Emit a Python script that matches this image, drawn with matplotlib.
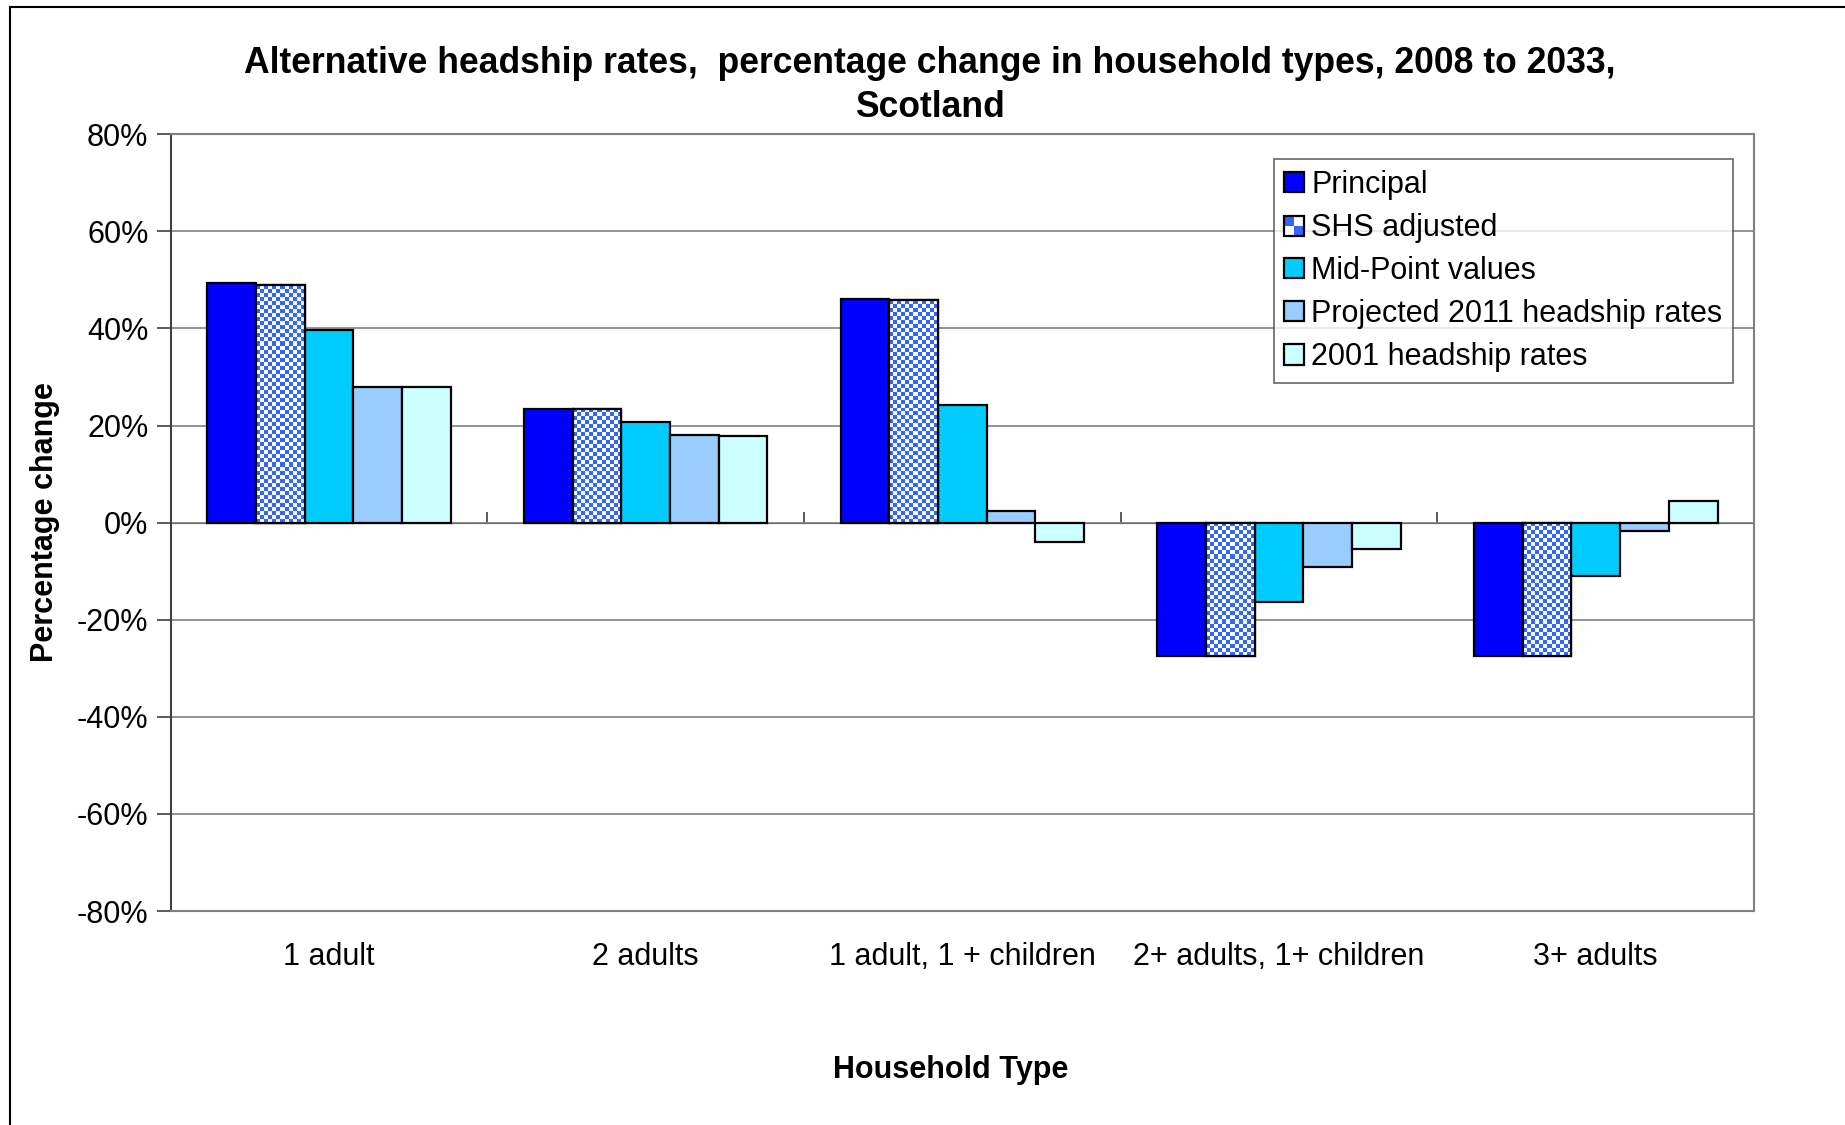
import matplotlib
matplotlib.use("Agg")
import matplotlib.pyplot as plt
import numpy as np
from matplotlib.patches import Rectangle
from matplotlib.lines import Line2D
from matplotlib.ticker import FuncFormatter

plt.rcParams['font.family'] = ['Liberation Sans', 'DejaVu Sans']

# --- Dados (variação percentual 2008-2033)
categorias = ['1 adult', '2 adults', '1 adult, 1 + children', '2+ adults, 1+ children', '3+ adults']
series = ['Principal', 'SHS adjusted', 'Mid-Point values', 'Projected 2011 headship rates', '2001 headship rates']
principal = [49.3, 23.4, 46.0, -27.5, -27.4]
shs_adjusted = [49.0, 23.5, 45.9, -27.5, -27.4]
mid_point = [39.7, 20.7, 24.3, -16.4, -10.9]
projected_2011 = [28.0, 18.1, 2.5, -9.1, -1.7]
headship_2001 = [27.9, 17.9, -4.0, -5.4, 4.4]
y_ticks = [-80, -60, -40, -20, 0, 20, 40, 60, 80]

valores = [principal, shs_adjusted, mid_point, projected_2011, headship_2001]
cores = ['#0000FF', None, '#00CCFF', '#99CCFF', '#CCFFFF']
azul_xadrez = '#3366FF'

fig = plt.figure(figsize=(18.45, 11.25), dpi=100)
ax = fig.add_axes([0.0925, 0.1902, 0.8582, 0.6904])

x = np.arange(len(categorias))
largura = 1 / 6.5
ax.set_xlim(-0.5, len(categorias) - 0.5)
ax.set_ylim(-80, 80)

# --- Barras
barras_shs = []
for k, (vals, cor, nome) in enumerate(zip(valores, cores, series)):
    pos = x + (k - 2) * largura
    if cor is None:
        b = ax.bar(pos, vals, largura, color='white', edgecolor='black', linewidth=1.6, zorder=3, label=nome)
        barras_shs = b
    else:
        ax.bar(pos, vals, largura, color=cor, edgecolor='black', linewidth=1.6, zorder=3, label=nome)

# --- Padrão xadrez para "SHS adjusted" (celulas de ~4 px)
fig.canvas.draw()
azul_rgb = np.array(matplotlib.colors.to_rgb(azul_xadrez))
branco = np.array([1.0, 1.0, 1.0])
for barra in barras_shs:
    x0, y0 = barra.get_x(), barra.get_y()
    w, h = barra.get_width(), barra.get_height()
    p0 = ax.transData.transform((x0, y0))
    p1 = ax.transData.transform((x0 + w, y0 + h))
    ncol = max(1, int(round(abs(p1[0] - p0[0]) / 4)))
    nlin = max(1, int(round(abs(p1[1] - p0[1]) / 4)))
    ii, jj = np.meshgrid(np.arange(ncol), np.arange(nlin))
    mask = ((ii + jj) % 2 == 0)
    img = np.where(mask[..., None], azul_rgb, branco)
    ax.imshow(img, extent=(x0, x0 + w, min(y0, y0 + h), max(y0, y0 + h)),
              aspect='auto', interpolation='nearest', zorder=3.5)
    ax.add_patch(Rectangle((x0, y0), w, h, facecolor='none', edgecolor='black', linewidth=1.6, zorder=4))

ax.set_xlim(-0.5, len(categorias) - 0.5)
ax.set_ylim(-80, 80)
ax.set_aspect('auto')

# --- Eixos e grade
ax.set_yticks(y_ticks)
ax.yaxis.set_major_formatter(FuncFormatter(lambda v, pos: f'{v:.0f}%'))
ax.tick_params(axis='y', labelsize=22, length=10, width=1.2, color='#404040', pad=6)
ax.yaxis.grid(True, color='#808080', linewidth=1.2, zorder=0)
ax.set_axisbelow(True)

ax.set_xticks(x)
ax.set_xticklabels(categorias)
ax.tick_params(axis='x', labelsize=22, length=0, pad=22)

for lado in ['top', 'right', 'bottom']:
    ax.spines[lado].set_color('#808080')
    ax.spines[lado].set_linewidth(1.5)
ax.spines['left'].set_color('#404040')
ax.spines['left'].set_linewidth(1.5)

# --- Linha do zero com marcações entre categorias
eixo_zero = ax.secondary_xaxis(0.5)
eixo_zero.set_xticks(np.arange(len(categorias) + 1) - 0.5)
eixo_zero.set_xticklabels([])
eixo_zero.tick_params(axis='x', direction='out', length=8, width=1.2, color='#404040')
eixo_zero.spines['bottom'].set_color('#404040')
eixo_zero.spines['bottom'].set_linewidth(1.5)


# --- Legenda com quadrado xadrez
class HandlerXadrez:
    def legend_artist(self, legend, orig_handle, fontsize, handlebox):
        x0, y0 = handlebox.xdescent, handlebox.ydescent
        w, h = handlebox.width, handlebox.height
        for i in range(2):
            for j in range(2):
                c = azul_xadrez if (i + j) % 2 == 1 else 'white'
                handlebox.add_artist(Rectangle((x0 + i * w / 2, y0 + j * h / 2), w / 2, h / 2,
                                               facecolor=c, edgecolor='none',
                                               transform=handlebox.get_transform()))
        borda = Rectangle((x0, y0), w, h, facecolor='none', edgecolor='black', linewidth=1.6,
                          transform=handlebox.get_transform())
        handlebox.add_artist(borda)
        return borda


handles, labels = ax.get_legend_handles_labels()
leg = ax.legend(handles, labels, loc='upper right', bbox_to_anchor=(0.9867, 0.968), borderaxespad=0,
                fontsize=22, frameon=True, fancybox=False, edgecolor='#404040',
                handlelength=0.65, handleheight=0.65, handletextpad=0.25, labelspacing=0.43,
                borderpad=0.34, handler_map={handles[1]: HandlerXadrez()})
leg.get_frame().set_linewidth(1.2)
leg.set_zorder(10)

# --- Títulos
fig.text(0.504, 0.9243, 'Alternative headship rates,  percentage change in household types, 2008 to 2033,\nScotland',
         ha='center', va='center', fontsize=25.6, fontweight='bold', linespacing=1.33)
fig.text(0.5154, 0.0486, 'Household Type', ha='center', va='center', fontsize=22, fontweight='bold')
fig.text(0.0244, 0.536, 'Percentage change', ha='center', va='center', rotation=90, fontsize=22, fontweight='bold')

# --- Moldura externa
fig.add_artist(Line2D([0.0054, 0.0054], [0, 0.9942], transform=fig.transFigure, color='black', linewidth=1.5))
fig.add_artist(Line2D([0.0054, 1], [0.9942, 0.9942], transform=fig.transFigure, color='black', linewidth=1.5))

fig.savefig('out.png', dpi=100)
